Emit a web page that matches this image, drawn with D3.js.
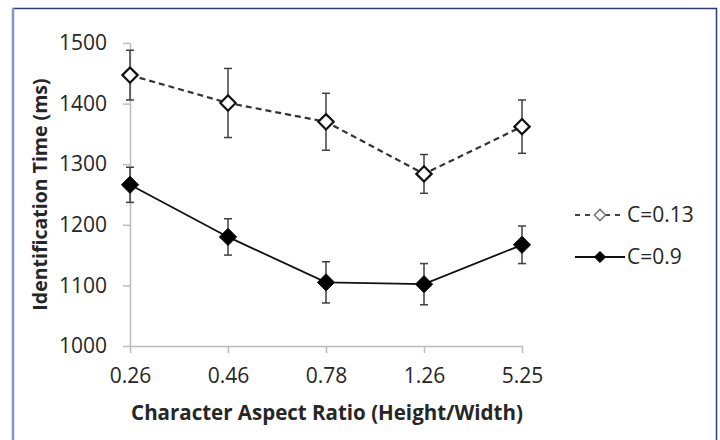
<!DOCTYPE html>
<html>
<head>
<meta charset="utf-8">
<script src="https://cdn.jsdelivr.net/npm/d3@7"></script>
<style>
  body { margin: 0; background: #fff; }
  svg { display: block; font-family: "Open Sans", sans-serif; }
</style>
</head>
<body>
<svg id="chart"></svg>
<script>
// data
const ratios = ["0.26", "0.46", "0.78", "1.26", "5.25"];
const yTicks = [1000, 1100, 1200, 1300, 1400, 1500];
const lowC = [1447, 1401, 1370, 1284, 1362];      // C=0.13
const lowCErr = [41, 57, 47, 32, 44];
const highC = [1266, 1180, 1105, 1102, 1167];     // C=0.9
const highCErr = [29, 30, 34, 34, 31];

const series = [
  {name: "C=0.13", values: lowC, err: lowCErr, dash: "6,4", fill: "#fff"},
  {name: "C=0.9", values: highC, err: highCErr, dash: null, fill: "#000"}
];

const width = 720, height = 440;
const svg = d3.select("#chart").attr("width", width).attr("height", height);

// frame: navy top/right, lighter left edge
svg.append("path")
  .attr("d", "M12.5,8.5 H716.5 V440")
  .attr("fill", "none")
  .attr("stroke", "#2c3b7c")
  .attr("stroke-width", 1.5);
svg.append("line")
  .attr("x1", 13).attr("x2", 13).attr("y1", 8).attr("y2", 440)
  .attr("stroke", "#8a92c2")
  .attr("stroke-width", 2.5);

const x = d3.scalePoint().domain(ratios).range([130, 522]);
const y = d3.scaleLinear().domain([1000, 1500]).range([346, 43]);

//axes
const xAxis = svg.append("g")
  .attr("transform", `translate(0,${y(1000)})`)
  .call(d3.axisBottom(x).tickSize(7).tickSizeOuter(0).tickPadding(15));

const yAxis = svg.append("g")
  .attr("transform", `translate(${x(ratios[0])},0)`)
  .call(d3.axisLeft(y).tickValues(yTicks).tickFormat(d3.format("d"))
    .tickSize(7).tickSizeOuter(0).tickPadding(16));

[xAxis, yAxis].forEach(g => {
  g.selectAll("path, line").attr("stroke", "#bcbcbc").attr("stroke-width", 1.5);
  g.selectAll("text").attr("font-size", "21px").attr("fill", "#262626")
    .attr("font-family", "'Open Sans', sans-serif");
});

svg.append("text")
  .attr("x", (x.range()[0] + x.range()[1]) / 2 + 1)
  .attr("y", 420)
  .attr("text-anchor", "middle")
  .attr("font-weight", "bold")
  .attr("font-size", "20.5px")
  .attr("fill", "#262626")
  .text("Character Aspect Ratio (Height/Width)");

svg.append("text")
  .attr("transform", `translate(47,${(y(1000) + y(1500)) / 2}) rotate(-90)`)
  .attr("text-anchor", "middle")
  .attr("font-weight", "bold")
  .attr("font-size", "19.5px")
  .attr("fill", "#262626")
  .text("Identification Time (ms)");

const line = d3.line().x((d, i) => x(ratios[i])).y(d => y(d));
const diamond = d3.symbol().type(d3.symbolDiamond2);

series.forEach(s => {
  const g = svg.append("g");

  // error bars
  s.values.forEach((v, i) => {
    const cx = x(ratios[i]);
    const eb = g.append("g").attr("stroke", "#404040").attr("stroke-width", 1.5);
    eb.append("line").attr("x1", cx).attr("x2", cx)
      .attr("y1", y(v - s.err[i])).attr("y2", y(v + s.err[i]));
    [v - s.err[i], v + s.err[i]].forEach(e => {
      eb.append("line").attr("x1", cx - 4).attr("x2", cx + 4)
        .attr("y1", y(e)).attr("y2", y(e));
    });
  });

  g.append("path")
    .datum(s.values)
    .attr("d", line)
    .attr("fill", "none")
    .attr("stroke", s.dash ? "#333" : "#111")
    .attr("stroke-width", s.dash ? 2.2 : 1.8)
    .attr("stroke-dasharray", s.dash);

  g.selectAll("path.pt")
    .data(s.values)
    .join("path")
    .attr("class", "pt")
    .attr("transform", (d, i) => `translate(${x(ratios[i])},${y(d)})`)
    .attr("d", diamond.size(s.dash ? 150 : 190))
    .attr("fill", s.fill)
    .attr("stroke", "#111")
    .attr("stroke-width", s.dash ? 2.2 : 1);
});

// legend
const legend = svg.append("g");
series.forEach((s, i) => {
  const ly = 215 + i * 42;
  const lg = legend.append("g");
  lg.append("line")
    .attr("x1", 575).attr("x2", 625).attr("y1", ly).attr("y2", ly)
    .attr("stroke", s.dash ? "#444" : "#111")
    .attr("stroke-width", s.dash ? 2 : 1.8)
    .attr("stroke-dasharray", s.dash ? "5,5" : null);
  lg.append("path")
    .attr("transform", `translate(600,${ly})`)
    .attr("d", diamond.size(80))
    .attr("fill", s.fill)
    .attr("stroke", s.dash ? "#777" : "#111")
    .attr("stroke-width", s.dash ? 1.5 : 1);
  lg.append("text")
    .attr("x", 627).attr("y", ly)
    .attr("dy", "0.35em")
    .attr("font-size", "21px")
    .attr("fill", "#262626")
    .text(s.name);
});
</script>
</body>
</html>
